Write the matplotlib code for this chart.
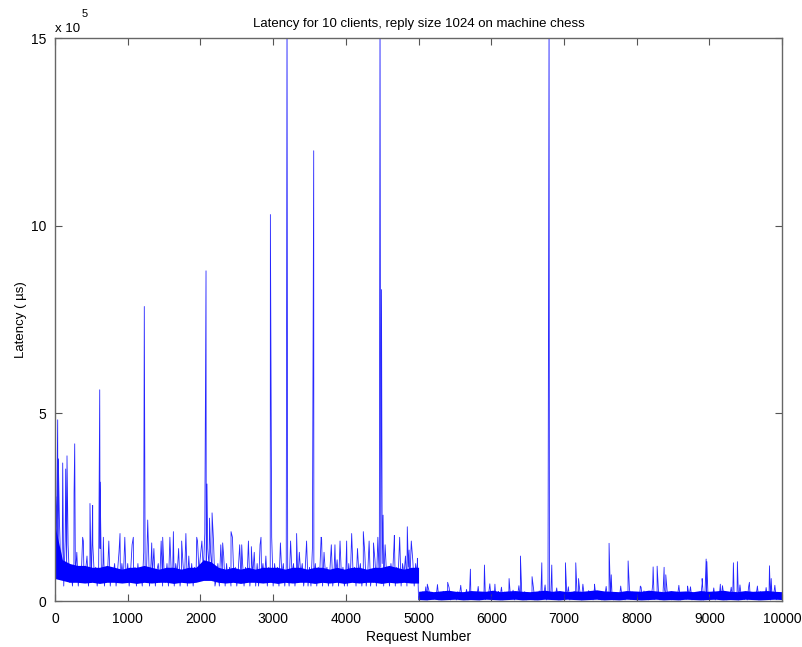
import numpy as np
import matplotlib
matplotlib.use('Agg')
import matplotlib.pyplot as plt
from matplotlib.ticker import FuncFormatter

plt.rcParams['font.family'] = ['Liberation Sans', 'DejaVu Sans']

# background latency band, one reading every 20 requests, units of 1e4 us
step = 20
band_a = [27, 18, 10, 22, 6, 14, 4, 16, 8, 15, 5, 9, 4, 10, 7, 13, 4, 9, 6, 17, 5, 8, 12, 4, 9,
          5, 15, 7, 9, 4, 8, 14, 5, 10, 4, 9, 6, 16, 4, 9, 7, 10, 4, 8, 13, 5, 10, 6, 17, 5,
          10, 4, 8, 15, 5, 9, 4, 10, 5, 8, 4, 13, 6, 9, 18, 4, 10, 7, 14, 4, 8, 10, 5, 16, 4,
          8, 5, 10, 4, 17, 7, 9, 4, 10, 7, 14, 4, 8, 10, 5, 18, 4, 12, 5, 10, 4, 9, 7, 16, 8,
          12, 16, 8, 18, 10, 14, 9, 13, 8, 16, 4, 6, 10, 4, 15, 7, 12, 4, 10, 5, 9, 4, 17, 6, 9,
          4, 8, 15, 5, 10, 4, 9, 5, 16, 4, 9, 7, 13, 4, 10, 4, 15, 7, 10, 5, 12, 4, 9, 5, 17,
          4, 10, 6, 9, 4, 15, 7, 10, 4, 9, 8, 4, 16, 7, 10, 4, 8, 5, 13, 7, 10, 4, 8, 16, 4,
          9, 4, 14, 6, 10, 4, 9, 7, 17, 4, 13, 7, 9, 4, 8, 15, 4, 9, 7, 11, 4, 16, 6, 9, 4,
          8, 4, 10, 5, 18, 7, 9, 4, 14, 7, 10, 4, 8, 13, 4, 7, 16, 4, 8, 5, 11, 4, 17, 6, 9,
          10, 4, 15, 7, 9, 4, 10, 6, 14, 4, 9, 7, 17, 4, 10, 7, 12, 4, 9, 5, 16, 11, 4, 10, 7]
band_b = [0.3, 2.0, 0.4, 2.5, 0.8, 3.8, 0.3, 3.0, 0.9, 2.2, 0.4, 1.9, 0.7, 4.4, 0.3, 1.7, 0.8, 2.6, 0.4, 2.0, 1.2, 3.6, 0.3, 2.3, 1.1,
          1.8, 0.3, 2.5, 1.2, 4.2, 0.4, 2.2, 1.0, 3.1, 0.3, 1.7, 0.9, 2.4, 0.4, 2.0, 0.8, 3.9, 0.3, 1.8, 1.0, 2.3, 0.4, 1.9, 1.3, 4.6,
          0.3, 2.1, 0.8, 1.7, 0.4, 2.6, 0.9, 3.7, 0.3, 2.4, 0.7, 1.8, 0.4, 2.2, 1.0, 2.9, 0.3, 1.9, 1.2, 4.1, 0.4, 1.7, 1.1, 2.5, 0.3,
          2.2, 0.4, 1.8, 0.7, 3.4, 0.3, 2.0, 0.9, 2.7, 0.4, 1.9, 1.3, 4.3, 0.3, 1.7, 1.1, 2.5, 0.4, 2.1, 1.2, 3.5, 0.3, 2.3, 1.0, 2.0,
          0.4, 2.4, 0.9, 3.8, 0.3, 2.2, 0.8, 2.6, 0.4, 1.9, 1.0, 2.3, 0.3, 4.5, 1.2, 2.1, 0.4, 2.8, 1.1, 1.8, 0.3, 3.6, 1.0, 2.0, 0.4,
          1.9, 0.3, 2.3, 1.1, 3.9, 0.4, 2.5, 0.9, 2.0, 0.3, 2.2, 1.0, 1.8, 0.4, 4.0, 0.8, 1.9, 0.3, 2.3, 0.9, 3.3, 0.4, 2.4, 1.0, 2.1,
          0.3, 2.2, 1.2, 3.7, 0.4, 2.7, 1.0, 1.9, 0.3, 2.3, 0.7, 4.4, 0.4, 1.8, 0.9, 2.5, 0.3, 2.1, 1.2, 3.6, 0.4, 2.4, 1.1, 1.9, 0.3,
          2.3, 0.4, 1.7, 1.2, 4.2, 0.3, 2.0, 1.1, 1.8, 0.4, 2.6, 1.3, 3.8, 0.3, 2.2, 1.0, 1.7, 0.4, 2.4, 0.9, 4.7, 0.3, 2.8, 0.7, 1.8,
          0.4, 1.9, 0.8, 3.5, 0.3, 1.7, 1.0, 2.2, 0.4, 4.1, 1.1, 1.8, 0.3, 2.3, 1.2, 3.7, 0.4, 1.7, 1.3, 2.5, 0.3, 4.3, 1.0, 1.9, 0.4,
          2.0, 0.3, 3.9, 1.1, 1.8, 0.4, 2.2, 1.2, 4.0, 0.3, 2.5, 0.9, 1.9, 0.4, 3.6, 0.8, 2.0, 0.3, 1.8, 1.0, 4.2, 0.4, 2.1, 1.1, 1.5]

# dense core of the band (low / high edge), 50 readings per half, units of 1e4 us
core_lo_a = [6, 5.5, 5, 5, 4.8, 5, 4.7, 5, 5, 4.8, 5, 4.7, 5, 4.8, 5, 5, 4.7, 5, 4.8, 5,
             5.5, 5.5, 5, 4.8, 5, 4.7, 5, 5, 4.8, 5, 4.7, 5, 4.8, 5, 5, 4.7, 5, 4.8, 5, 4.7,
             5, 4.8, 5, 5, 4.7, 5, 4.8, 5, 4.8, 4.8]
core_hi_a = [20, 11, 10, 9.5, 9.5, 9, 9, 9.5, 9, 8.5, 9, 9, 9.5, 9, 8.5, 9, 9, 8.5, 9, 9,
             11, 10.5, 9, 8.5, 9, 8.5, 9, 8.5, 9, 9, 9, 8.5, 9, 9, 8.5, 9, 9, 8.5, 9, 8.5,
             9, 9, 8.5, 9, 9, 9.5, 9, 8.5, 9, 9]
core_lo_b = [0.4, 0.3, 0.5, 0.3, 0.4, 0.5, 0.3, 0.4, 0.3, 0.5, 0.4, 0.3, 0.4, 0.5, 0.3, 0.4, 0.3, 0.5, 0.4, 0.3,
             0.5, 0.4, 0.3, 0.4, 0.5, 0.3, 0.4, 0.3, 0.5, 0.4, 0.3, 0.4, 0.5, 0.3, 0.4, 0.3, 0.5, 0.4, 0.3, 0.4,
             0.5, 0.3, 0.4, 0.3, 0.5, 0.4, 0.3, 0.4, 0.5, 0.4]
core_hi_b = [2.6, 2.8, 2.5, 2.7, 2.9, 2.6, 2.5, 2.8, 2.7, 2.6, 2.9, 2.5, 2.7, 2.8, 2.6, 2.5, 2.7, 2.9, 2.6, 2.8,
             2.5, 2.7, 2.6, 2.8, 3.0, 2.7, 2.6, 2.5, 2.8, 2.7, 2.6, 2.9, 2.7, 2.5, 2.8, 2.6, 2.7, 2.5, 2.8, 2.6,
             2.7, 2.9, 2.6, 2.5, 2.8, 2.6, 2.7, 2.8, 2.6, 2.5]

# isolated spikes: request number and latency in units of 1e5 us
spike_x = [10, 37, 46, 69, 106, 147, 165, 262, 271, 390, 481, 518, 615, 620, 665, 894,
           1077, 1228, 1275, 1330, 1481, 1628, 1742, 1949, 2077, 2090, 2125, 2160, 2306,
           2421, 2568, 2700, 2833, 2962, 3100, 3191, 3323, 3558, 3667, 3850, 4011, 4240,
           4380, 4470, 4490, 4512, 4667, 4845, 4870, 4984,
           5120, 5400, 5713, 5906, 6050, 6245, 6401, 6561, 6695, 6795, 6832, 7020, 7162,
           7200, 7420, 7620, 7650, 7882, 8050, 8226, 8281, 8377, 8400, 8700, 8900, 8955,
           8965, 9150, 9330, 9385, 9550, 9826, 9850]
spike_y = [2.78, 4.83, 3.79, 1.6, 3.68, 3.52, 3.87, 2.87, 4.19, 1.6, 2.6, 2.55, 5.63, 3.17, 1.7, 1.8,
           1.7, 7.85, 2.16, 1.55, 1.7, 1.85, 1.6, 1.7, 8.8, 3.12, 2.21, 2.35, 1.55,
           1.85, 1.5, 1.45, 1.7, 10.3, 1.55, 16.0, 1.8, 12.0, 1.65, 1.5, 1.6, 1.85,
           1.55, 16.0, 8.3, 2.29, 1.75, 1.98, 1.36, 1.14,
           0.45, 0.5, 0.85, 0.96, 0.45, 0.6, 1.2, 0.65, 1.02, 16.0, 0.96, 1.02, 1.02,
           0.6, 0.45, 1.54, 0.7, 1.07, 0.4, 0.91, 0.93, 0.9, 0.7, 0.4, 0.6, 1.12,
           1.05, 0.45, 1.02, 1.05, 0.5, 0.94, 0.6]

band = np.array(band_a + band_b) * 1e4
band_x = np.arange(len(band)) * step
sx = np.array(spike_x)
sy = np.array(spike_y) * 1e5

x = np.concatenate([band_x, sx])
y = np.concatenate([band, sy])
order = np.argsort(x, kind='stable')
x, y = x[order], y[order]

fig = plt.figure(figsize=(8.03, 6.47), dpi=100)
ax = fig.add_axes([0.0685, 0.071, 0.9055, 0.870])
half = len(band_a) * step
for lo, hi, x0 in [(core_lo_a, core_hi_a, 0), (core_lo_b, core_hi_b, half)]:
    cx = np.linspace(x0, x0 + half, len(lo))
    ax.fill_between(cx, np.array(lo) * 1e4, np.array(hi) * 1e4, color='#0000ff', lw=0)
ax.plot(x, y, color='#0000ff', lw=0.6, alpha=0.85)

ax.set_xlim(0, 10000)
ax.set_ylim(0, 1.5e6)
ax.set_xticks(np.arange(0, 10001, 1000))
ax.set_yticks([0, 5e5, 1e6, 1.5e6])
ax.yaxis.set_major_formatter(FuncFormatter(lambda v, p: '%d' % round(v / 1e5)))
ax.tick_params(direction='in', top=True, right=True, length=5, width=0.8,
               labelsize=10, color='#555555')
ax.tick_params(axis='x', pad=8)
ax.tick_params(axis='y', pad=6)
for s in ax.spines.values():
    s.set_color('#666666')
    s.set_linewidth(1.0)

ax.set_title('Latency for 10 clients, reply size 1024 on machine chess', fontsize=9.5, pad=8)
ax.set_xlabel('Request Number', fontsize=10, labelpad=3)
ax.set_ylabel('Latency ( µs)', fontsize=9.5, labelpad=3)
fig.text(55 / 803, 1 - 32 / 647, 'x 10', fontsize=9.5, va='baseline')
fig.text(82 / 803, 1 - 17 / 647, '5', fontsize=8, va='baseline')

fig.savefig('out.png', dpi=100)
